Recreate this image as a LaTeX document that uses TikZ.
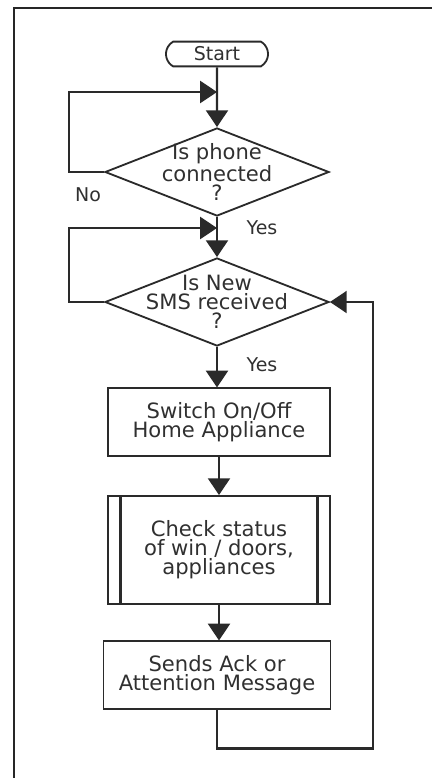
\documentclass[tikz,border=0pt]{standalone}
\usepackage{fontspec}
\setmainfont{DejaVu Sans}
\usepackage{tikz}
\usetikzlibrary{arrows.meta,positioning,shapes.geometric,shapes.misc}
\definecolor{fcline}{HTML}{2A2A2A}
\definecolor{fctext}{HTML}{303030}

\begin{document}
\begin{tikzpicture}[
  x=0.025cm, y=-0.025cm,
  term/.style={
    rounded rectangle, rounded rectangle arc length=120,
    draw=fcline, line width=1.3pt,
    minimum width=2.55cm, minimum height=0.62cm, inner sep=0pt,
    font=\fontsize{13.5}{13}\selectfont, text=fctext
  },
  decision/.style={
    diamond, draw=fcline, line width=1.3pt, aspect=2.5,
    minimum width=5.6cm, minimum height=2.2cm, inner sep=-0.3cm,
    align=center, font=\fontsize{15}{13.5}\selectfont, text=fctext
  },
  proc/.style={
    rectangle, draw=fcline, line width=1.3pt,
    minimum width=5.55cm, minimum height=1.68cm, align=center,
    font=\fontsize{15}{13.5}\selectfont, text=fctext
  },
  subproc/.style={proc, minimum height=2.7cm},
  arr/.style={-{Triangle[length=0.42cm, width=0.55cm]}, line width=1.5pt, draw=fcline},
  lbl/.style={font=\fontsize{13.5}{13}\selectfont, text=fctext},
]
  \useasboundingbox (0,0) rectangle (432,778);

  % frame
  \draw[line width=1.6pt, black!85] (432,8) -- (14,8) -- (14,778);

  % Steps
  \node[term] (start) at (217,54) {Start};
  \node[decision] (conn) at (217,172) {Is phone\\connected\\?};
  \node[decision] (sms) at (217,302) {Is New\\SMS received\\?};
  \node[proc] (switch) at (219,422) {Switch On/Off\\Home Appliance};
  \node[subproc] (check) at (219,550) {Check status\\of win / doors,\\appliances};
  \node[proc, minimum width=5.675cm] (ack) at (217,675) {Sends Ack or\\Attention Message};

  % side bars of the predefined process
  \draw[fcline, line width=2pt] ([xshift=0.33cm]check.north west) -- ([xshift=0.33cm]check.south west);
  \draw[fcline, line width=2pt] ([xshift=-0.33cm]check.north east) -- ([xshift=-0.33cm]check.south east);

  % Merge points and return corner
  \coordinate (m1) at (217,92);
  \coordinate (m2) at (217,228);
  \coordinate (ret) at (373,302);

  % Labels
  \node[lbl] (lno) at (88,195) {No};
  \node[lbl] (lyes1) at (262,228) {Yes};
  \node[lbl] (lyes2) at (262,365) {Yes};

  % Arrows
  \draw[arr] (start) -- (conn);
  \draw[arr] (conn.west) -- ++(-35,0) |- (m1);
  \draw[arr] (conn) -- (sms);
  \draw[arr] (sms.west) -- ++(-35,0) |- (m2);
  \draw[arr] (sms.south) -- (sms.south |- switch.north);
  \draw[arr] (switch) -- (check);
  \draw[arr] (check.south) -- (check.south |- ack.north);
  \draw[arr] (ack.south) -- ++(0,39) -| (ret) -- (sms.east);
\end{tikzpicture}
\end{document}
